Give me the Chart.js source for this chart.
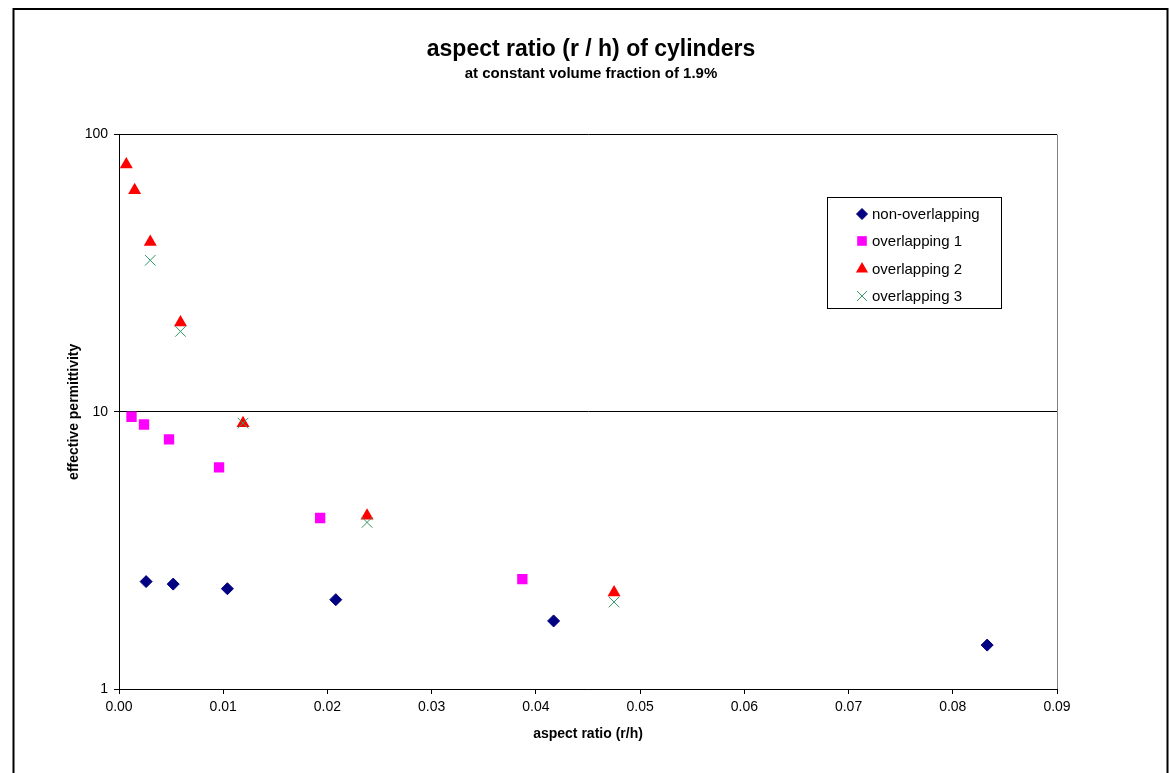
<!DOCTYPE html>
<html>
<head>
<meta charset="utf-8">
<script src="https://cdn.jsdelivr.net/npm/chart.js@4.4.0/dist/chart.umd.min.js"></script>
<style>
  body { margin: 0; background: #fff; }
</style>
</head>
<body>
<canvas id="mycanvas" width="1170" height="773"></canvas>
<script>
// values
var nonX = [0.0026, 0.0052, 0.0104, 0.0208, 0.0417, 0.0833];
var nonY = [2.44, 2.39, 2.30, 2.10, 1.76, 1.44];
var ov1X = [0.0012, 0.0024, 0.0048, 0.0096, 0.0193, 0.0387];
var ov1Y = [9.6, 9.0, 7.95, 6.3, 4.14, 2.49];
var ov2X = [0.0007, 0.0015, 0.0030, 0.0059, 0.0119, 0.0238, 0.0475];
var ov2Y = [78, 63, 41, 21, 9.1, 4.22, 2.23];
var ov3X = [0.0030, 0.0059, 0.0119, 0.0238, 0.0475];
var ov3Y = [35.2, 19.5, 9.1, 3.99, 2.06];
var yTicks = [1, 10, 100];
var seriesNames = ['non-overlapping', 'overlapping 1', 'overlapping 2', 'overlapping 3'];

function pts(xs, ys) {
    var out = [];
    for (var i in xs) out.push({x: xs[i], y: ys[i]});
    return out;
}

var styles = [
    {pointStyle: 'rectRot', radius: 6, color: '#000080', border: 1},
    {pointStyle: 'rect', radius: 7.3, color: '#FF00FF', border: 0},
    {pointStyle: 'triangle', radius: 7.5, color: '#FF0000', border: 0},
    {pointStyle: 'crossRot', radius: 7.5, color: '#339966', border: 1}
];
var allData = [pts(nonX, nonY), pts(ov1X, ov1Y), pts(ov2X, ov2Y), pts(ov3X, ov3Y)];

var datasets = [];
for (var i = 0; i < 4; i++) {
    datasets.push({
        label: seriesNames[i],
        data: allData[i],
        pointStyle: styles[i].pointStyle,
        pointRadius: styles[i].radius,
        pointHoverRadius: styles[i].radius,
        backgroundColor: styles[i].color,
        borderColor: styles[i].color,
        pointBorderWidth: styles[i].border,
        order: 4 - i
    });
}

// outer frame, plot border and the boxed legend
var decor = {
    id: 'decor',
    beforeDraw: function(chart) {
        var ctx = chart.ctx;
        ctx.save();
        ctx.fillStyle = '#fff';
        ctx.fillRect(0, 0, chart.width, chart.height);
        ctx.restore();
    },
    beforeDatasetsDraw: function(chart) {
        var ctx = chart.ctx, a = chart.chartArea;
        ctx.save();
        ctx.strokeStyle = '#808080';
        ctx.lineWidth = 1;
        ctx.beginPath();
        ctx.moveTo(Math.round(a.right) + 0.5, a.top);
        ctx.lineTo(Math.round(a.right) + 0.5, a.bottom);
        ctx.stroke();
        ctx.restore();
    },
    afterDraw: function(chart) {
        var ctx = chart.ctx;
        ctx.save();
        // frame
        ctx.strokeStyle = '#000';
        ctx.lineWidth = 2;
        ctx.beginPath();
        ctx.moveTo(13.5, 800);
        ctx.lineTo(13.5, 9);
        ctx.lineTo(1167.5, 9);
        ctx.lineTo(1167.5, 800);
        ctx.stroke();

        // legend
        ctx.fillStyle = '#fff';
        ctx.fillRect(827, 197, 174, 111);
        ctx.lineWidth = 1;
        ctx.strokeRect(827.5, 197.5, 174, 111);
        var rowY = [214, 241, 269, 296];
        ctx.font = '15px Arial, "Liberation Sans"';
        ctx.textBaseline = 'middle';
        ctx.textAlign = 'left';
        for (var k = 0; k < 4; k++) {
            ctx.fillStyle = styles[k].color;
            ctx.strokeStyle = styles[k].color;
            ctx.lineWidth = styles[k].border;
            Chart.helpers.drawPoint(ctx, {
                pointStyle: styles[k].pointStyle,
                radius: styles[k].radius - 0.5,
                rotation: 0,
                borderWidth: styles[k].border
            }, 862, rowY[k]);
            ctx.fillStyle = '#000';
            ctx.fillText(seriesNames[k], 872, rowY[k] + 1);
        }
        ctx.restore();
    }
};

var ctx = document.getElementById('mycanvas');

var scatterChart = new Chart(ctx, {
    type: 'scatter',
    data: {datasets: datasets},
    options: {
        responsive: false,
        animation: false,
        layout: {padding: {left: 12, right: 0, top: 0, bottom: 0}},
        plugins: {
            legend: {display: false},
            tooltip: {enabled: false},
            title: {
                display: true,
                text: 'aspect ratio (r / h) of cylinders',
                color: '#000',
                font: {family: 'Arial, "Liberation Sans"', size: 23, weight: 'bold'},
                padding: {top: 36, bottom: 0}
            },
            subtitle: {
                display: true,
                text: 'at constant volume fraction of 1.9%',
                color: '#000',
                font: {family: 'Arial, "Liberation Sans"', size: 15, weight: 'bold'},
                padding: {top: 1, bottom: 52}
            }
        },
        scales: {
            x: {
                type: 'linear',
                min: 0,
                max: 0.09,
                afterFit: function(s) { s.height = 84; },
                ticks: {
                    stepSize: 0.01,
                    color: '#000',
                    padding: 5,
                    maxRotation: 0,
                    font: {family: 'Arial, "Liberation Sans"', size: 14},
                    callback: function(v) { return v.toFixed(2); }
                },
                grid: {drawOnChartArea: false, drawTicks: true, tickLength: 5, tickColor: '#000'},
                border: {display: true, color: '#000', width: 1},
                title: {
                    display: true,
                    text: 'aspect ratio (r/h)',
                    color: '#000',
                    font: {family: 'Arial, "Liberation Sans"', size: 14, weight: 'bold'},
                    padding: {top: 0, bottom: 30}
                }
            },
            y: {
                type: 'logarithmic',
                min: 1,
                max: 100,
                afterFit: function(s) { s.width = 107; },
                afterBuildTicks: function(s) {
                    s.ticks = yTicks.map(function(v) { return {value: v, major: true}; });
                },
                ticks: {
                    color: '#000',
                    padding: 6,
                    font: {family: 'Arial, "Liberation Sans"', size: 14},
                    callback: function(v) { return String(v); }
                },
                grid: {color: '#000', lineWidth: 1, drawTicks: true, tickLength: 5, tickColor: '#000'},
                border: {display: true, color: '#000', width: 1},
                title: {
                    display: true,
                    text: 'effective permittivity',
                    color: '#000',
                    font: {family: 'Arial, "Liberation Sans"', size: 14, weight: 'bold'},
                    padding: {top: 54, bottom: 0}
                }
            },
            y2: {
                position: 'right',
                display: true,
                afterFit: function(s) { s.width = 113; },
                ticks: {display: false},
                grid: {display: false, drawTicks: false},
                border: {display: false}
            }
        }
    },
    plugins: [decor]
});
</script>
</body>
</html>
